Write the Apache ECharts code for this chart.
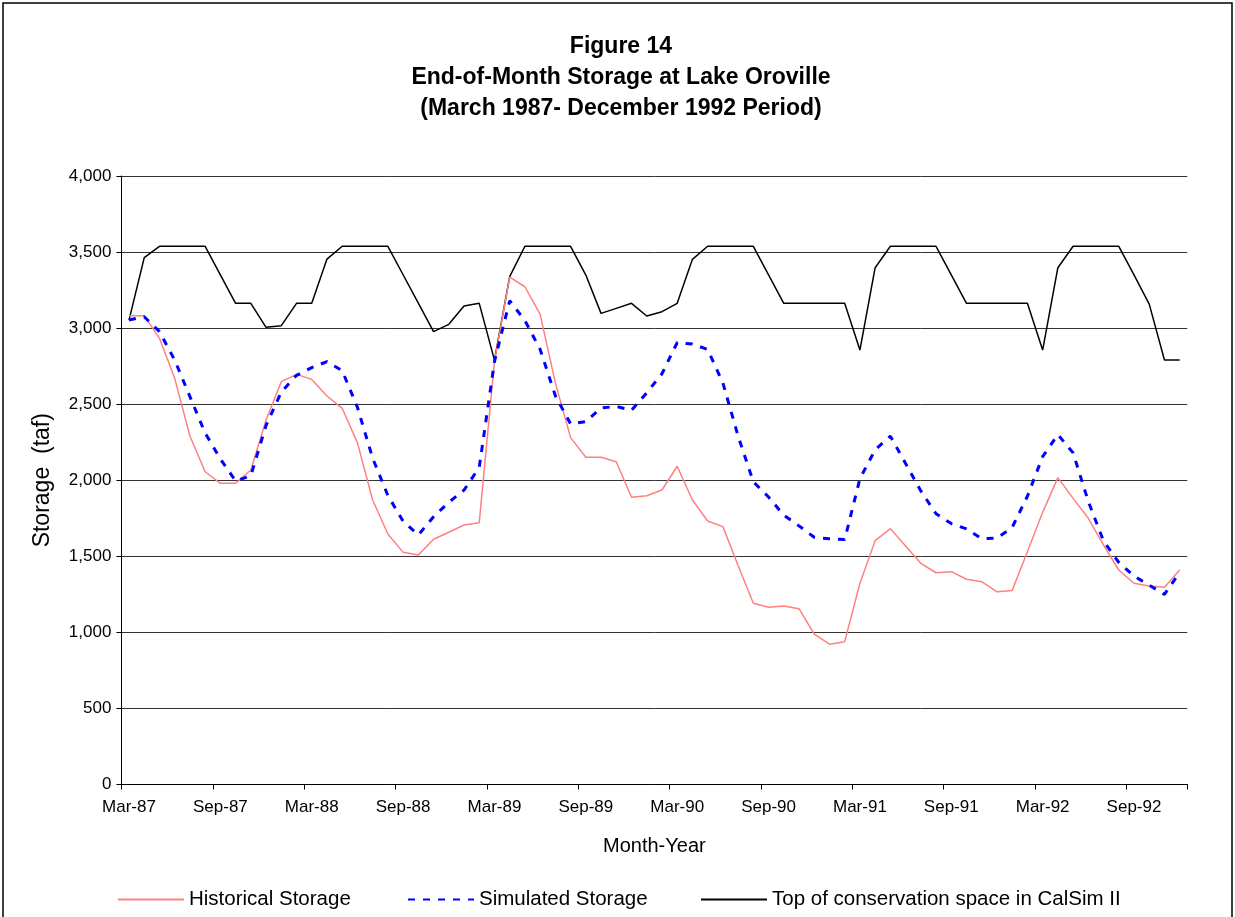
<!DOCTYPE html>
<html>
<head>
<meta charset="utf-8">
<script src="https://cdn.jsdelivr.net/npm/echarts@6/dist/echarts.min.js"></script>
<style>
html,body{margin:0;padding:0;background:#fff;}
#chart{width:1235px;height:917px;}
</style>
</head>
<body>
<div id="chart"></div>
<script>
var months = ['Mar-87','Apr-87','May-87','Jun-87','Jul-87','Aug-87','Sep-87','Oct-87','Nov-87','Dec-87',
  'Jan-88','Feb-88','Mar-88','Apr-88','May-88','Jun-88','Jul-88','Aug-88','Sep-88','Oct-88','Nov-88','Dec-88',
  'Jan-89','Feb-89','Mar-89','Apr-89','May-89','Jun-89','Jul-89','Aug-89','Sep-89','Oct-89','Nov-89','Dec-89',
  'Jan-90','Feb-90','Mar-90','Apr-90','May-90','Jun-90','Jul-90','Aug-90','Sep-90','Oct-90','Nov-90','Dec-90',
  'Jan-91','Feb-91','Mar-91','Apr-91','May-91','Jun-91','Jul-91','Aug-91','Sep-91','Oct-91','Nov-91','Dec-91',
  'Jan-92','Feb-92','Mar-92','Apr-92','May-92','Jun-92','Jul-92','Aug-92','Sep-92','Oct-92','Nov-92','Dec-92'];

var historical = [3082,3082,2933,2670,2291,2056,1980,1980,2067,2396,
  2648,2696,2663,2554,2473,2247,1870,1647,1526,1509,
  1612,1658,1706,1721,2780,3335,3272,3090,2640,2280,
  2151,2151,2122,1888,1898,1936,2092,1870,1732,1695,
  1440,1191,1165,1173,1156,989,922,939,1323,1603,
  1682,1568,1454,1392,1399,1349,1333,1267,1276,1530,
  1789,2017,1881,1750,1574,1410,1323,1305,1296,1410];

var simulated = [3053,3075,2977,2790,2550,2310,2140,1995,2030,2360,
  2580,2690,2740,2780,2720,2480,2145,1900,1730,1640,
  1760,1855,1935,2085,2780,3180,3050,2860,2555,2370,
  2385,2475,2485,2460,2575,2700,2905,2895,2860,2640,
  2290,1990,1890,1770,1700,1625,1615,1610,2010,2200,
  2290,2110,1930,1780,1715,1680,1615,1620,1690,1895,
  2155,2300,2180,1860,1600,1460,1370,1310,1250,1395];

var topConservation = [3053,3463,3538,3538,3538,3538,3350,3163,3163,3005,
  3016,3163,3163,3454,3538,3538,3538,3538,3351,3164,
  2977,3025,3145,3163,2790,3338,3538,3538,3538,3538,
  3349,3097,3130,3163,3080,3108,3163,3452,3538,3538,
  3538,3538,3350,3163,3163,3163,3163,3163,2856,3397,
  3538,3538,3538,3538,3350,3163,3163,3163,3163,3163,
  2856,3397,3538,3538,3538,3538,3350,3158,2790,2790];

var seriesNames = ['Historical Storage','Simulated Storage','Top of conservation space in CalSim II'];
var yMin = 0, yMax = 4000, yStep = 500;
var titleText = 'Figure 14\nEnd-of-Month Storage at Lake Oroville\n(March 1987- December 1992 Period)';

var FONT = '"Liberation Sans", Arial, sans-serif';
var chart = echarts.init(document.getElementById('chart'), null, {renderer:'canvas'});

var legendBase = {
  top: 889, itemWidth: 66, itemHeight: 22, itemGap: 0, padding: 0,
  textStyle: {fontFamily: FONT, fontSize: 20.5, color: '#000'},
  itemStyle: {opacity: 0},
  selectedMode: false
};

chart.setOption({
  animation: false,
  backgroundColor: '#fff',
  textStyle: {fontFamily: FONT},
  title: {
    text: titleText,
    left: 616, top: 26, textAlign: 'center',
    textStyle: {fontFamily: FONT, fontSize: 23, fontWeight: 'bold', lineHeight: 31, color: '#000'}
  },
  graphic: [{
    type: 'rect', silent: true, z: 100,
    shape: {x: 3, y: 3, width: 1229, height: 960},
    style: {fill: 'none', stroke: '#000', lineWidth: 1.5}
  }],
  legend: [
    Object.assign({}, legendBase, {left: 117, data: [seriesNames[0]]}),
    Object.assign({}, legendBase, {left: 407, data: [seriesNames[1]]}),
    Object.assign({}, legendBase, {left: 700, data: [seriesNames[2]]})
  ],
  grid: {left: 121.4, right: 47.7, top: 176, bottom: 132.5, containLabel: false},
  xAxis: {
    type: 'category', data: months, boundaryGap: true,
    name: 'Month-Year', nameLocation: 'middle', nameGap: 52,
    nameTextStyle: {fontFamily: FONT, fontSize: 20, color: '#000'},
    axisLine: {lineStyle: {color: '#000', width: 1}},
    axisTick: {show: true, interval: 5, length: 5, lineStyle: {color: '#000'}},
    axisLabel: {interval: 5, margin: 14, fontFamily: FONT, fontSize: 17, color: '#000'},
    splitLine: {show: false}
  },
  yAxis: {
    type: 'value', min: yMin, max: yMax, interval: yStep,
    name: 'Storage  (taf)', nameLocation: 'middle', nameGap: 67, nameRotate: 90,
    nameTextStyle: {fontFamily: FONT, fontSize: 23, color: '#000'},
    axisLine: {show: true, lineStyle: {color: '#000', width: 1}},
    axisTick: {show: true, length: 5, lineStyle: {color: '#000'}},
    axisLabel: {margin: 10, fontFamily: FONT, fontSize: 17, color: '#000',
      formatter: function(v){ return v.toLocaleString('en-US'); }},
    splitLine: {show: true, lineStyle: {color: '#333', width: 1}}
  },
  series: [
    {name: seriesNames[0], type: 'line', data: historical, symbol: 'none',
      lineStyle: {color: '#FF8080', width: 1.5}, itemStyle: {color: '#FF8080'}, z: 3},
    {name: seriesNames[1], type: 'line', data: simulated, symbol: 'none',
      lineStyle: {color: '#0000FF', width: 3, type: [7, 8]}, itemStyle: {color: '#0000FF'}, z: 4},
    {name: seriesNames[2], type: 'line', data: topConservation, symbol: 'none',
      lineStyle: {color: '#000', width: 1.5}, itemStyle: {color: '#000'}, z: 2}
  ]
});
</script>
</body>
</html>
